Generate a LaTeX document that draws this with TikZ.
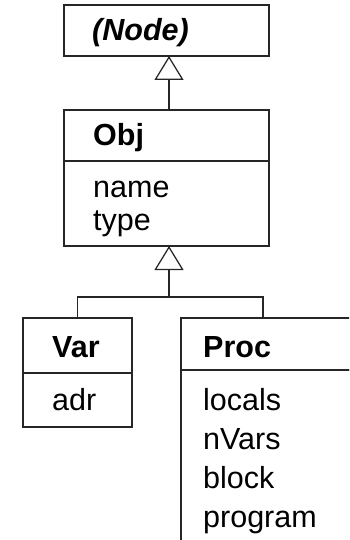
\documentclass[tikz,border=0pt]{standalone}
\usepackage{fontspec}
\setmainfont{Liberation Sans}
\usetikzlibrary{arrows.meta}
\begin{document}
\begin{tikzpicture}[x=1pt,y=-1pt,
  box/.style={draw=black!85, line width=1.25pt, anchor=north west, inner sep=0pt, outer sep=0pt},
  lbl/.style={anchor=base west, inner sep=0pt, font=\fontsize{30.5}{36}\selectfont},
  blbl/.style={lbl, font=\fontsize{30.5}{36}\selectfont\bfseries},
  conn/.style={draw=black!85, line width=1.25pt},
  gen/.style={conn, -{Triangle[open, length=24pt, width=29pt, fill=white]}}]
\clip (0,0) rectangle (349,540);
% boxes
\node[box, minimum width=205pt, minimum height=51pt] (node) at (64,5) {};
\node[box, minimum width=205pt, minimum height=51pt] (objh) at (64,110) {};
\node[box, minimum width=205pt, minimum height=85pt] (objb) at (64,161) {};
\node[box, minimum width=109pt, minimum height=55pt] (varh) at (23,318) {};
\node[box, minimum width=109pt, minimum height=54pt] (varb) at (23,373) {};
\node[box, minimum width=190pt, minimum height=52pt] (proch) at (181,318) {};
\node[box, minimum width=190pt, minimum height=200pt] (procb) at (181,370) {};
% texts
\node[lbl, font=\fontsize{30.5}{36}\selectfont\bfseries\itshape] (tnode) at (92,41) {(Node)};
\node[blbl] (tobj) at (93,146) {Obj};
\node[lbl] (tname) at (93,197) {name};
\node[lbl] (ttype) at (93,230) {type};
\node[blbl] (tvar) at (52,357) {Var};
\node[lbl] (tadr) at (52,410) {adr};
\node[blbl] (tproc) at (203,357) {Proc};
\node[lbl] (tlocals) at (203,410) {locals};
\node[lbl] (tnvars) at (203,449) {nVars};
\node[lbl] (tblock) at (203,488) {block};
\node[lbl] (tprogram) at (203,527) {program};
% connectors
\coordinate (j) at (169,297);
\coordinate (procin) at (263,318);
\draw[gen] (objh.north -| j) -- (node.south -| j);
\draw[gen] (j) -- (objb.south -| j);
\draw[conn] (varh.north) |- (j) -| (procin);
\end{tikzpicture}
\end{document}
